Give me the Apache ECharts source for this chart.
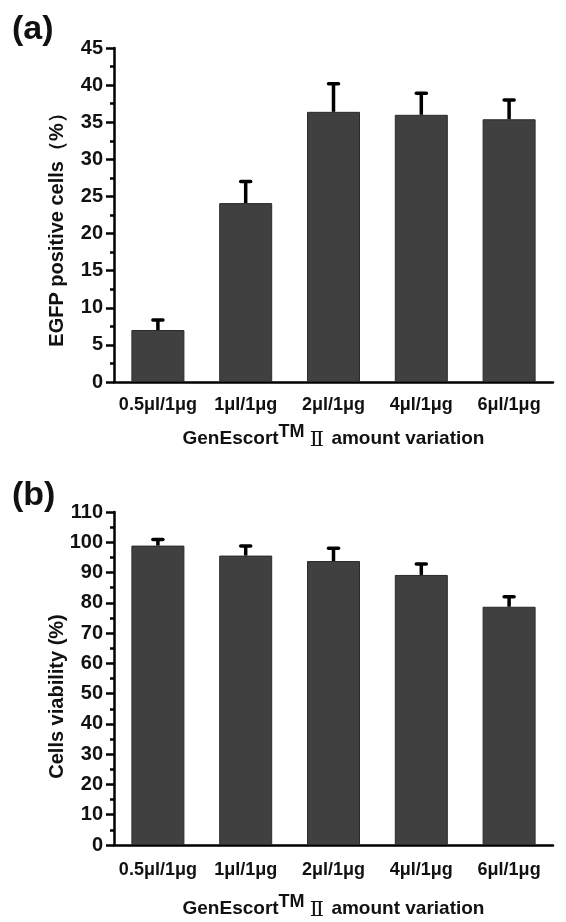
<!DOCTYPE html>
<html><head><meta charset="utf-8">
<script src="https://cdn.jsdelivr.net/npm/echarts@6/dist/echarts.min.js"></script>
<style>html,body{margin:0;padding:0;background:#fff}#c{width:566px;height:922px}</style>
</head><body><div id="c"></div>
<script>
var categories = ['0.5μl/1μg','1μl/1μg','2μl/1μg','4μl/1μg','6μl/1μg'];
var egfpValues = [7.0, 24.1, 36.4, 36.0, 35.4];
var egfpErrTop = [8.35, 27.0, 40.2, 38.9, 38.0];
var viabValues = [98.9, 95.6, 93.8, 89.2, 78.7];
var viabErrTop = [100.9, 98.8, 98.0, 92.8, 82.0];
var egfpTicks = {min:0, max:45, interval:5};
var viabTicks = {min:0, max:110, interval:10};

var FONT = 'Liberation Sans, Arial, sans-serif';
var chart = echarts.init(document.getElementById('c'), null, {renderer:'canvas'});

function errItem(params, api){
  var x = api.value(0), top = api.value(2), base = api.value(1);
  var p0 = api.coord([x, base]), p1 = api.coord([x, top]);
  return {type:'group', children:[
    {type:'line', shape:{x1:p0[0], y1:p0[1], x2:p1[0], y2:p1[1]}, style:{stroke:'#000', lineWidth:3.5}},
    {type:'line', shape:{x1:p1[0]-5, y1:p1[1], x2:p1[0]+5, y2:p1[1]}, style:{stroke:'#000', lineWidth:3.5, lineCap:'round'}}
  ]};
}
function errData(vals, tops){ return vals.map(function(v,i){ return [i, v, tops[i]]; }); }

function xMain(gi, gap, margin){
  return {type:'category', gridIndex:gi, data:categories,
    name: 'GenEscort{sup|TM}{ii| Ⅱ} amount variation',
    nameLocation:'middle', nameGap:gap, nameMoveOverlap:false,
    nameTextStyle:{fontFamily:FONT, fontWeight:'bold', fontSize:19, color:'#111',
      rich:{sup:{fontFamily:FONT, fontWeight:'bold', fontSize:18, color:'#111', verticalAlign:'bottom', padding:[0,0,14,0]},
            ii:{fontFamily:'Liberation Serif, DejaVu Serif, serif', fontWeight:'normal', fontSize:21, color:'#111', padding:[3,2,0,0]}}},
    axisLine:{lineStyle:{color:'#000', width:2.5}},
    axisTick:{alignWithLabel:true, length:6, lineStyle:{width:2.5, color:'#000'}},
    axisLabel:{fontFamily:FONT, fontWeight:'bold', fontSize:18, color:'#111', margin:margin, interval:0},
    splitLine:{show:false}};
}
function xMinor(gi){
  return {type:'category', gridIndex:gi, data:categories, position:'bottom',
    axisLine:{show:false}, axisLabel:{show:false},
    axisTick:{length:3, lineStyle:{width:2.5, color:'#000'}}, splitLine:{show:false}};
}
function yAxis(gi, t, name, pad){
  return {type:'value', gridIndex:gi, min:t.min, max:t.max, interval:t.interval,
    name:name, nameLocation:'middle', nameGap:47, nameMoveOverlap:false,
    nameTextStyle:{fontFamily:FONT, fontWeight:'bold', fontSize:20, color:'#111', padding:pad},
    axisLine:{show:true, lineStyle:{color:'#000', width:2.5}},
    axisTick:{show:true, length:8, lineStyle:{width:2.5, color:'#000'}},
    minorTick:{show:true, splitNumber:2, length:4, lineStyle:{width:2.5, color:'#000'}},
    axisLabel:{fontFamily:FONT, fontWeight:'bold', fontSize:20, color:'#111', margin:11},
    splitLine:{show:false}};
}

chart.setOption({
  backgroundColor:'#fff',
  animation:false,
  grid:[{left:114, right:13, top:48, height:334}, {left:114, right:13, top:512, height:333}],
  xAxis:[xMain(0, 41, 14), xMinor(0), xMain(1, 48, 16), xMinor(1)],
  yAxis:[yAxis(0, egfpTicks, 'EGFP positive cells（%）', [0,20,0,0]), yAxis(1, viabTicks, 'Cells viability (%)', [0,36,0,0])],
  graphic:[
    {type:'text', left:12, top:13, style:{text:'(a)', fontFamily:FONT, fontWeight:'bold', fontSize:34, fill:'#111'}},
    {type:'text', left:12, top:479, style:{text:'(b)', fontFamily:FONT, fontWeight:'bold', fontSize:34, fill:'#111'}}
  ],
  series:[
    {type:'bar', xAxisIndex:0, yAxisIndex:0, data:egfpValues, barWidth:53,
      itemStyle:{color:'#404040', borderColor:'#2a2a2a', borderWidth:1}},
    {type:'custom', xAxisIndex:0, yAxisIndex:0, renderItem:errItem, data:errData(egfpValues, egfpErrTop), z:5},
    {type:'bar', xAxisIndex:2, yAxisIndex:1, data:viabValues, barWidth:53,
      itemStyle:{color:'#404040', borderColor:'#2a2a2a', borderWidth:1}},
    {type:'custom', xAxisIndex:2, yAxisIndex:1, renderItem:errItem, data:errData(viabValues, viabErrTop), z:5}
  ]
});
</script></body></html>
